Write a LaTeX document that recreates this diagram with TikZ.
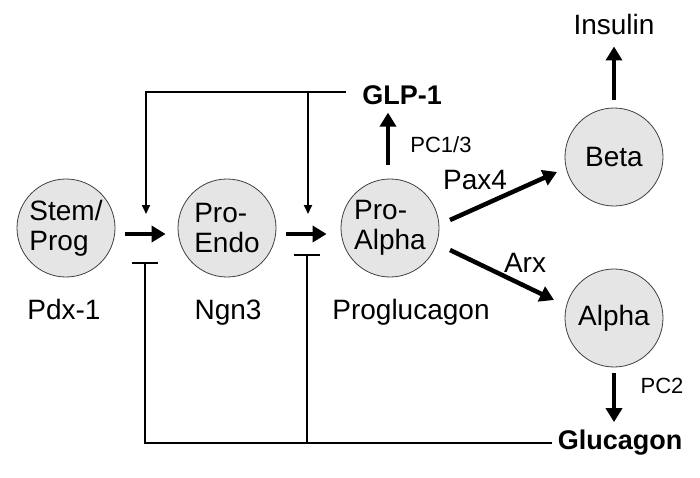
\documentclass[tikz,border=0pt]{standalone}
\usepackage{fontspec}
\setmainfont{Liberation Sans}
\usetikzlibrary{arrows.meta,calc}
\begin{document}
\begin{tikzpicture}[x=1pt,y=-1pt,
  cell/.style={circle,draw=black!75,line width=0.8pt,fill=black!10,minimum size=98pt,inner sep=0pt,align=left,font=\fontsize{28}{30}\selectfont},
  lbl/.style={font=\fontsize{28}{30}\selectfont,inner sep=0pt},
  blbl/.style={font=\fontsize{27}{29}\selectfont\bfseries,inner sep=0pt},
  sml/.style={font=\fontsize{22}{24}\selectfont,inner sep=0pt},
  bigarrow/.style={line width=4.5pt,-{Triangle[length=14pt,width=16pt]}},
  fb/.style={line width=2pt},
  fbarrow/.style={line width=2pt,line join=miter,-{Triangle[length=9pt,width=8pt]}},
  inhib/.style={line width=2pt,line join=miter,-{Bar[width=26pt]}}]
\path[use as bounding box] (0,0) rectangle (700,477);
% cells
\node[cell] (stem) at (66,228) {Stem/\\Prog};
\node[cell] (endo) at (227,228) {Pro-\\Endo};
\node[cell] (palpha) at (390,228) {Pro-\\Alpha};
\node[cell] (beta) at (614,157) {Beta};
\node[cell] (alpha) at (614,318) {Alpha};
% labels
\node[lbl,anchor=base] (pdx) at (64,319) {Pdx-1};
\node[lbl,anchor=base] (ngn) at (228,319) {Ngn3};
\node[lbl,anchor=base] (prog) at (411,319) {Proglucagon};
\node[blbl] (glp) at (402,95) {GLP-1};
\node[lbl] (ins) at (614,24) {Insulin};
\node[blbl] (glu) at (620,443) {Glucagon};
\node[sml] (pc13) at (441,145) {PC1/3};
\node[sml] (pc2) at (662,386) {PC2};
\node[lbl] (pax) at (475,180) {Pax4};
\node[lbl] (arx) at (525,263) {Arx};
% main arrows
\draw[bigarrow] ($(stem.east)+(10,6)$) -- ($(endo.west)+(-12,6)$);
\draw[bigarrow] ($(endo.east)+(10,6)$) -- ($(palpha.west)+(-14,6)$);
\draw[bigarrow] ($(palpha.north)+(-2,-14)$) -- ($(palpha.north)+(-2,-66)$);
\draw[bigarrow] ($(palpha.center)+(60,-8)$) -- ($(beta.center)+(-57,15)$);
\draw[bigarrow] ($(palpha.center)+(60,22)$) -- ($(alpha.center)+(-60,-18)$);
\draw[bigarrow] ($(beta.north)+(0,-8)$) -- ($(ins.south)+(0,12)$);
\draw[bigarrow] ($(alpha.south)+(0,6)$) -- ($(glu.north)+(-6,-8)$);
% feedback from GLP-1
\coordinate (tl) at (146,92);
\coordinate (tm) at (308,92);
\coordinate (a1) at (146,214);
\coordinate (a2) at (308,214);
\draw[fbarrow] ($(glp.west)+(-16,-3)$) -- (tl) -- (a1);
\draw[fbarrow] (tm) -- (a2);
% feedback from Glucagon
\coordinate (bl) at (145,443);
\coordinate (bm) at (307,443);
\coordinate (b1) at (145,262);
\coordinate (b2) at (307,254);
\draw[inhib] ($(glu.west)+(-6,0)$) -- (bl) -- (b1);
\draw[inhib] (bm) -- (b2);
\end{tikzpicture}
\end{document}
